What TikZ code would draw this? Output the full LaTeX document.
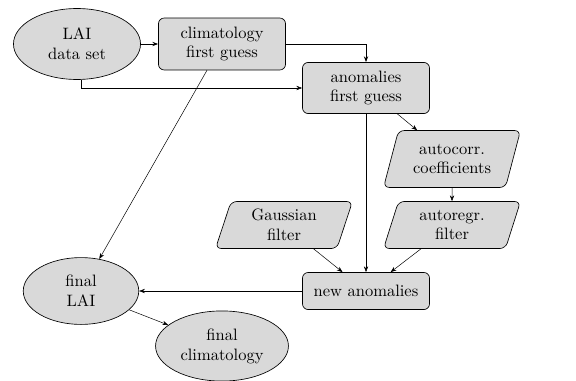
\documentclass[tikz,border=0pt]{standalone}
\usetikzlibrary{shapes.geometric,arrows.meta}

\begin{document}
\begin{tikzpicture}[x=0.606pt,y=-0.606pt]

    % Styles for the three kinds of blocks
    \tikzset{
        databox/.style={ellipse, draw, fill=black!15, align=center},
        procbox/.style={rectangle, rounded corners=3.5pt, draw, fill=black!15, align=center,
            minimum width=77pt},
        parambox/.style={trapezium, trapezium left angle=70, trapezium right angle=110,
            trapezium stretches body, rounded corners=3.5pt, draw, fill=black!15, align=center,
            minimum width=83pt},
        arr/.style={-{Stealth[length=3.5pt,width=2.6pt]}, line width=0.3pt},
        boldarr/.style={-{Stealth[length=3.5pt,width=2.6pt]}, line width=0.55pt}
    }

    % Fix the size of the picture
    \useasboundingbox (0,0) rectangle (576,380);

    % Input data and first guesses
    \node[databox, minimum width=77pt, minimum height=43pt] (lai) at (77,44) {LAI\\data set};
    \node[procbox, minimum height=31.5pt] (clim) at (222,44) {climatology\\first guess};
    \node[procbox, minimum height=31pt] (anom) at (366,88) {anomalies\\first guess};

    % Filter parameters
    \node[parambox, minimum height=34.5pt] (acorr) at (452,159) {autocorr.\\coefficients};
    \node[parambox, minimum height=28.5pt] (gauss) at (284,225) {Gaussian\\filter};
    \node[parambox, minimum height=28.5pt] (aregr) at (452,225) {autoregr.\\filter};

    % Results
    \node[procbox, minimum height=22.5pt] (newanom) at (366,291) {new anomalies};
    \node[databox, minimum width=70pt, minimum height=40.5pt] (finlai) at (81,291) {final\\LAI};
    \node[databox, minimum width=80.5pt, minimum height=42.5pt] (fincli) at (222,346) {final\\climatology};

    % Connections
    \draw[boldarr] (lai) -- (clim);
    \draw[boldarr] (clim.east) -| (anom.north);
    \draw[arr] ([xshift=2.4pt]lai.south) |- (anom.west);
    \draw[arr] (clim) -- (finlai);
    \draw[arr] (anom) -- (newanom);
    \draw[arr] (anom) -- (acorr);
    \draw[arr] (acorr) -- (aregr);
    \draw[arr] (gauss) -- (newanom);
    \draw[arr] (aregr) -- (newanom);
    \draw[arr] (newanom) -- (finlai);
    \draw[arr] (finlai) -- (fincli);

\end{tikzpicture}
\end{document}
